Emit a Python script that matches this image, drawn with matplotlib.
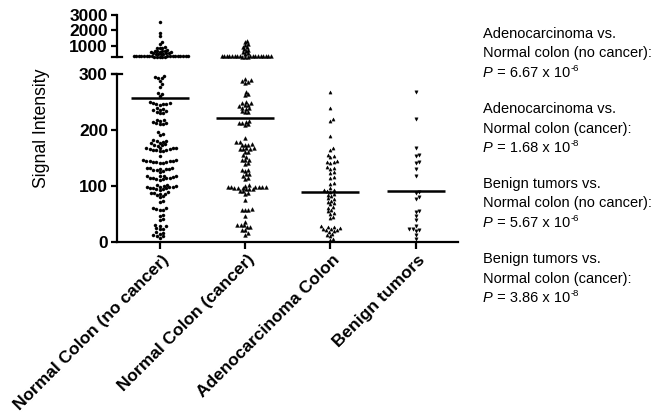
import numpy as np
import matplotlib
matplotlib.use('Agg')
import matplotlib.pyplot as plt
import matplotlib.transforms as mtransforms
from matplotlib.lines import Line2D

plt.rcParams['font.family'] = ['Liberation Sans', 'DejaVu Sans']

categories = ['Normal Colon (no cancer)', 'Normal Colon (cancer)',
              'Adenocarcinoma Colon', 'Benign tumors']

normal_nc = [2520, 1850, 1670, 1220, 1150, 900, 880, 860, 840, 720, 700, 680, 660,
             640, 620, 600, 580, 560, 540, 520, 500, 480, 460, 450,
             345, 343, 341, 339, 337, 335, 333, 331, 329, 327, 325, 323, 321, 319,
             317, 315, 313, 311, 309, 307, 305, 303,
             296, 295, 293, 292, 287, 282, 277, 266, 265, 261,
             250, 249, 248, 247, 246, 246, 245,
             239, 238, 236, 235, 234, 233, 231, 230,
             218, 217, 216, 215, 213, 212, 211, 210,
             196, 193, 191,
             182, 181, 180, 179, 177, 176, 175, 174, 173, 172, 168, 168, 167, 167,
             166, 166, 165, 165, 164, 163, 162,
             154, 146, 146, 145, 145, 144, 144, 143, 142, 142, 141, 141,
             133, 132, 132, 131, 130, 130, 129, 128, 127, 125,
             118, 118, 117, 117, 116, 115, 115, 114, 114, 113, 112, 111,
             102, 101, 100, 100, 99, 99, 98, 98, 97, 97, 96, 95, 94, 93,
             89, 88, 87, 86, 86, 84, 82, 80,
             73, 71, 61, 60, 59, 58, 57, 48, 46, 41, 39,
             30, 29, 28, 25, 24, 23, 17, 16, 15, 12, 11, 10, 8]

normal_c = [1300, 1250, 1100, 1050, 950, 900, 800, 750, 650, 600, 520, 480,
            345, 343, 341, 339, 337, 335, 333, 331, 329, 327, 325, 323, 321, 319,
            317, 315, 313, 311, 309, 307,
            291, 289, 287, 285, 284, 268, 264, 262,
            250, 249, 248, 245, 244, 243, 240, 239, 238, 234, 233, 232,
            216, 215, 213, 213, 210, 209,
            185, 179, 179, 175, 174, 174, 174, 167, 167, 166, 166, 166, 161, 161, 155,
            152, 147, 146, 146, 141, 139,
            129, 128, 127, 122, 121, 118, 115, 113,
            101, 100, 99, 99, 99, 99, 99, 98, 97, 97, 96, 94, 94, 94, 91, 91, 88, 86,
            75, 59, 58, 58, 57, 46,
            36, 31, 31, 30, 27, 27, 22, 22, 16, 13]

adeno = [268, 239, 216, 219, 189, 167, 164, 156, 154, 152, 145, 143, 142, 141,
         134, 133, 131, 125, 123, 116, 114, 106, 104, 96, 93, 92, 91, 89, 86, 84,
         82, 78, 76, 74, 72, 70, 68, 63, 61, 58, 55, 52, 50, 45, 42,
         28, 27, 26, 25, 24, 23, 22, 21, 20, 18, 15, 12, 10, 6, 3]

benign = [268, 219, 168, 156, 154, 143, 141, 130, 118, 89, 87, 80, 77, 56, 54,
          47, 39, 28, 24, 23, 22, 20, 12, 5]

group_means = [257, 221, 89, 91]
lower_ticks = [0, 100, 200, 300]
upper_ticks = [1000, 2000, 3000]

p_blocks = [
    ('Adenocarcinoma vs.', 'Normal colon (no cancer):', '6.67', '-6'),
    ('Adenocarcinoma vs.', 'Normal colon (cancer):', '1.68', '-8'),
    ('Benign tumors vs.', 'Normal colon (no cancer):', '5.67', '-6'),
    ('Benign tumors vs.', 'Normal colon (cancer):', '3.86', '-8'),
]

groups = [normal_nc, normal_c, adeno, benign]
markers = ['o', '^', '^', 'v']
msizes = [2.2, 2.7, 2.3, 2.4]

W, H = 653, 418
fig = plt.figure(figsize=(W / 100, H / 100), dpi=100)
x0, x1 = 117, 458.3
ax = fig.add_axes([x0 / W, 1 - 242 / H, (x1 - x0) / W, 168 / H])
axu = fig.add_axes([x0 / W, 1 - 56.7 / H, (x1 - x0) / W, (56.7 - 15) / H])

for a in (ax, axu):
    a.set_xlim(-0.5, 3.5)
    a.patch.set_visible(False)
    for s in ('top', 'right'):
        a.spines[s].set_visible(False)
    a.spines['left'].set_linewidth(1.6)
    a.tick_params(axis='y', direction='out', length=4.5, width=1.6, pad=2,
                  labelsize=12.5)
ax.set_ylim(0, 300)
axu.set_ylim(300, 3000)
ax.spines['bottom'].set_linewidth(1.6)
axu.spines['bottom'].set_visible(False)
axu.set_xticks([])

ax.set_yticks(lower_ticks)
ax.set_yticklabels([str(t) for t in lower_ticks], fontweight='bold')
axu.set_yticks(upper_ticks)
axu.set_yticklabels([str(t) for t in upper_ticks], fontweight='bold')

ax.set_xticks(range(len(categories)))
ax.set_xticklabels(categories, rotation=45, ha='right', va='center',
                   rotation_mode='anchor', fontweight='bold', fontsize=12.5)
ax.tick_params(axis='x', direction='out', length=5, width=1.6, pad=4)
shift = mtransforms.ScaledTranslation(5 / 72, -2 / 72, fig.dpi_scale_trans)
for lab in ax.get_xticklabels():
    lab.set_transform(lab.get_transform() + shift)

# caps at the break
for yy in (74, 56.7):
    fig.add_artist(Line2D([(x0 - 5) / W, (x0 + 5) / W], [1 - yy / H, 1 - yy / H],
                          transform=fig.transFigure, color='black', lw=1.6))

fig.canvas.draw()
renderer = fig.canvas.get_renderer()
px_per_unit = (x1 - x0) / 4.0


def swarm(ypx, d):
    ypx = np.asarray(ypx, float)
    order = np.argsort(ypx)
    placed = []
    xs = np.zeros(len(ypx))
    for i in order:
        y = ypx[i]
        near = [(px, py) for px, py in placed if abs(py - y) < d]
        cands = [0.0]
        for px, py in near:
            dx = np.sqrt(max(d * d - (py - y) ** 2, 0))
            cands += [px + dx, px - dx]
        cands = sorted(cands, key=lambda c: (round(abs(c), 3), -c))
        for c in cands:
            if all((c - px) ** 2 + (y - py) ** 2 >= d * d - 1e-6 for px, py in near):
                xs[i] = c
                placed.append((c, y))
                break
    return xs


for gi, vals in enumerate(groups):
    vals = np.asarray(vals, float)
    for a, mask in ((ax, vals <= 300), (axu, vals > 300)):
        v = vals[mask]
        if len(v) == 0:
            continue
        ypx = a.transData.transform(np.column_stack([np.full(len(v), gi), v]))[:, 1]
        d = 3.4 if a is ax else 2.6
        off = swarm(ypx, d) / px_per_unit
        a.plot(gi + off, v, linestyle='none', marker=markers[gi], ms=msizes[gi],
               mfc='black', mec='black', mew=0.3, clip_on=False)
    ax.hlines(group_means[gi], gi - 0.34, gi + 0.34, color='black', lw=1.8)

fig.text(42 / W, 1 - 128.5 / H, 'Signal Intensity', rotation=90, ha='center',
         va='center', fontsize=12.7)

fs = 10.5
starts = [33, 108, 183, 258]
for b, (l1, l2, val, ex) in enumerate(p_blocks):
    ys = [starts[b] + li * 19.3 + 5.2 for li in range(3)]
    fig.text(483 / W, 1 - ys[0] / H, l1, ha='left', va='baseline', fontsize=fs)
    fig.text(483 / W, 1 - ys[1] / H, l2, ha='left', va='baseline', fontsize=fs)
    t1 = fig.text(483 / W, 1 - ys[2] / H, 'P', ha='left', va='baseline',
                  fontsize=fs, style='italic')
    e1 = t1.get_window_extent(renderer)
    t2 = fig.text(e1.x1 / W, 1 - ys[2] / H, ' = %s x 10' % val, ha='left',
                  va='baseline', fontsize=fs)
    e2 = t2.get_window_extent(renderer)
    fig.text((e2.x1 + 0.5) / W, 1 - (ys[2] - 5.8) / H, ex, ha='left',
             va='baseline', fontsize=6.8)

fig.savefig('out.png', dpi=100, facecolor='white')
